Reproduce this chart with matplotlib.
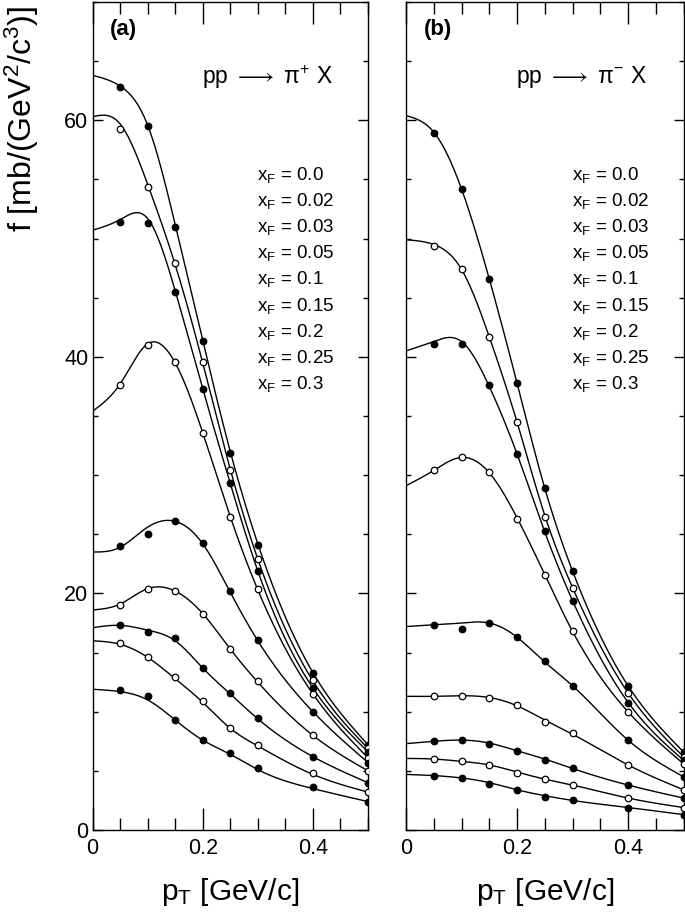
import numpy as np
import matplotlib
matplotlib.use("Agg")
import matplotlib.pyplot as plt
from matplotlib.ticker import MultipleLocator

plt.rcParams['font.family'] = ['Liberation Sans', 'DejaVu Sans']
plt.rcParams['mathtext.fontset'] = 'custom'
plt.rcParams['mathtext.rm'] = 'Liberation Sans'
plt.rcParams['mathtext.it'] = 'Liberation Sans:italic'
plt.rcParams['mathtext.bf'] = 'Liberation Sans:bold'
plt.rcParams['mathtext.fallback'] = 'stix'

# measured points (pT in GeV/c)
pt = [0.05, 0.1, 0.15, 0.2, 0.25, 0.3, 0.4, 0.5]
xf_labels = ['0.0', '0.02', '0.03', '0.05', '0.1', '0.15', '0.2', '0.25', '0.3']
filled = [True, False, True, False, True, False, True, False, True]

pip_pts = [
    [62.8, 59.5, 51.0, 41.3, 31.9, 24.1, 13.3, 7.2],
    [59.3, 54.4, 47.9, 39.6, 30.4, 22.9, 12.7, 6.9],
    [51.4, 51.3, 45.5, 37.3, 29.3, 21.9, 12.0, 6.6],
    [37.6, 41.0, 39.6, 33.6, 26.5, 20.4, 11.5, 6.1],
    [24.0, 25.0, 26.1, 24.3, 20.2, 16.1, 10.0, 5.7],
    [19.0, 20.4, 20.2, 18.3, 15.3, 12.6, 8.0, 5.0],
    [17.3, 16.7, 16.2, 13.7, 11.6, 9.5, 6.2, 4.0],
    [15.8, 14.6, 12.9, 10.9, 8.6, 7.2, 4.8, 3.2],
    [11.8, 11.3, 9.3, 7.6, 6.5, 5.2, 3.6, 2.4],
]
pim_pts = [
    [58.9, 54.2, 46.6, 37.8, 28.9, 21.9, 12.2, 6.6],
    [49.4, 47.4, 41.7, 34.5, 26.5, 20.5, 11.6, 6.2],
    [41.1, 41.1, 37.6, 31.8, 25.3, 19.4, 10.7, 5.9],
    [30.4, 31.5, 30.3, 26.3, 21.6, 16.8, 10.0, 5.6],
    [17.3, 17.0, 17.5, 16.3, 14.3, 12.2, 7.6, 4.5],
    [11.3, 11.35, 11.2, 10.6, 9.1, 8.2, 5.5, 3.4],
    [7.5, 7.6, 7.3, 6.7, 5.9, 5.2, 3.8, 2.7],
    [6.0, 5.8, 5.5, 4.8, 4.3, 3.8, 2.7, 1.9],
    [4.6, 4.4, 3.9, 3.4, 2.8, 2.5, 1.9, 1.3],
]

# fitted curves
pt_fit = [0.0, 0.05, 0.1, 0.15, 0.2, 0.25, 0.3, 0.4, 0.5]
pip_fit = [
    [63.8, 62.9, 59.6, 51.2, 41.4, 32.0, 24.2, 13.3, 7.2],
    [60.3, 59.7, 54.6, 47.8, 39.5, 30.5, 22.9, 12.6, 6.9],
    [50.7, 51.6, 51.7, 45.6, 37.3, 29.3, 21.9, 12.0, 6.6],
    [35.4, 37.7, 41.1, 39.5, 33.6, 26.5, 20.3, 11.5, 6.1],
    [23.5, 23.9, 25.6, 26.1, 24.2, 20.1, 16.0, 10.0, 5.7],
    [18.6, 19.1, 20.4, 20.2, 18.3, 15.3, 12.5, 8.0, 5.0],
    [17.1, 17.3, 16.9, 16.0, 13.7, 11.5, 9.4, 6.2, 4.0],
    [16.0, 15.7, 14.6, 12.8, 10.8, 8.6, 7.1, 4.7, 3.2],
    [11.9, 11.7, 11.0, 9.3, 7.6, 6.4, 5.1, 3.5, 2.4],
]
pim_fit = [
    [60.4, 59.0, 54.2, 46.6, 37.8, 28.9, 21.9, 12.2, 6.6],
    [49.9, 49.5, 47.4, 41.7, 34.5, 26.6, 20.5, 11.6, 6.2],
    [40.5, 41.3, 41.3, 37.5, 31.8, 25.2, 19.4, 10.8, 5.9],
    [29.1, 30.4, 31.5, 30.2, 26.4, 21.6, 16.8, 10.0, 5.6],
    [17.2, 17.35, 17.5, 17.5, 16.3, 14.2, 12.2, 7.6, 4.5],
    [11.3, 11.3, 11.35, 11.2, 10.5, 9.3, 8.1, 5.5, 3.4],
    [7.3, 7.5, 7.6, 7.35, 6.7, 6.0, 5.2, 3.8, 2.7],
    [6.05, 6.0, 5.8, 5.5, 4.9, 4.3, 3.8, 2.7, 1.9],
    [4.7, 4.6, 4.4, 4.0, 3.4, 2.9, 2.5, 1.9, 1.3],
]


def smooth(x, y, xs):
    # natural cubic spline, only used to draw the curves
    x = np.asarray(x, float)
    y = np.asarray(y, float)
    n = len(x)
    h = np.diff(x)
    A = np.zeros((n, n))
    r = np.zeros(n)
    A[0, 0] = A[-1, -1] = 1.0
    for i in range(1, n - 1):
        A[i, i - 1] = h[i - 1]
        A[i, i] = 2 * (h[i - 1] + h[i])
        A[i, i + 1] = h[i]
        r[i] = 6 * ((y[i + 1] - y[i]) / h[i] - (y[i] - y[i - 1]) / h[i - 1])
    M = np.linalg.solve(A, r)
    k = np.clip(np.searchsorted(x, xs) - 1, 0, n - 2)
    t0 = xs - x[k]
    t1 = x[k + 1] - xs
    hk = h[k]
    return (M[k] * t1 ** 3 + M[k + 1] * t0 ** 3) / (6 * hk) + \
        (y[k] / hk - M[k] * hk / 6) * t1 + (y[k + 1] / hk - M[k + 1] * hk / 6) * t0


fig = plt.figure(figsize=(6.85, 9.17), dpi=100)
ax_a = fig.add_axes([92.5 / 685, 1 - 830 / 917, 275.5 / 685, 828 / 917])
ax_b = fig.add_axes([406 / 685, 1 - 830 / 917, 277.5 / 685, 828 / 917])

xs = np.linspace(0, 0.5, 300)
panels = [(ax_a, pip_pts, pip_fit, '(a)', 'pp $\\longrightarrow$ \u03c0$^{\\mathregular{+}}$ X'),
          (ax_b, pim_pts, pim_fit, '(b)', 'pp $\\longrightarrow$ \u03c0$^{\\mathregular{-}}$ X')]

for ax, pts, fits, tag, reac in panels:
    for vals, fit, full in zip(pts, fits, filled):
        ax.plot(xs, smooth(pt_fit, fit, xs), color='black', lw=1.0)
        ax.plot(pt, vals, 'o', ms=4.7, mec='black', mew=0.9,
                mfc='black' if full else 'white', zorder=3)
    ax.set_xlim(0, 0.5)
    ax.set_ylim(0, 70)
    ax.xaxis.set_major_locator(MultipleLocator(0.2))
    ax.xaxis.set_minor_locator(MultipleLocator(0.05))
    ax.yaxis.set_major_locator(MultipleLocator(20))
    ax.yaxis.set_minor_locator(MultipleLocator(5))
    ax.tick_params(axis='x', which='major', direction='in', top=True, length=16, width=1,
                   labelsize=15.5, pad=6)
    ax.tick_params(axis='x', which='minor', direction='in', top=True, length=8.5, width=1)
    ax.tick_params(axis='y', which='major', direction='in', right=True, length=7, width=1,
                   labelsize=15.5, pad=3)
    ax.tick_params(axis='y', which='minor', direction='in', right=True, length=3.5, width=1)
    ax.xaxis.set_major_formatter(plt.FuncFormatter(lambda v, p: '%g' % round(v, 2)))
    for s in ax.spines.values():
        s.set_linewidth(1.0)
    ax.set_xlabel(r'p$_\mathregular{T}$ [GeV/c]', fontsize=21.5, labelpad=12)
    ax.text(0.063, 0.967, tag, transform=ax.transAxes, fontsize=16, fontweight='bold',
            va='center', ha='left')
    ax.text(0.397, 0.909, reac, transform=ax.transAxes, fontsize=16.5,
            va='center', ha='left')
    for i, lab in enumerate(xf_labels):
        ax.text(0.597, 1 - (173 + 26.1 * i) / 828, r'x$_\mathregular{F}$ = ' + lab,
                transform=ax.transAxes, fontsize=13.5, va='center', ha='left')

ax_b.tick_params(axis='y', labelleft=False)
fig.text(22 / 685, 1 - 119 / 917, r'f [mb/(GeV$^\mathregular{2}$/c$^\mathregular{3}$)]',
         rotation=90, fontsize=23, ha='center', va='center')

fig.savefig('out.png', dpi=100)
